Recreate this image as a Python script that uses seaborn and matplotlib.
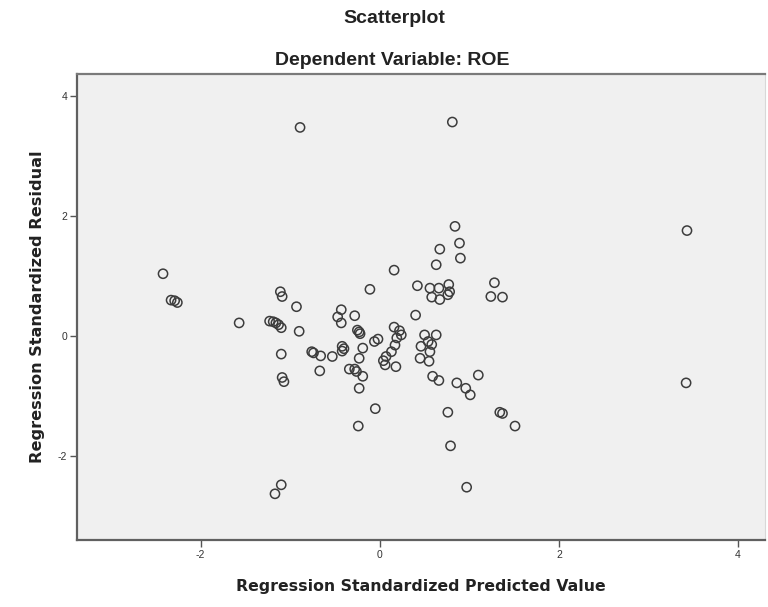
import matplotlib
matplotlib.use("Agg")
import matplotlib.pyplot as plt
import seaborn as sns
import pandas as pd

# ---------------- Data ----------------
predicted = [
    -2.42, -2.33, -2.29, -2.26, -1.57,
    -1.23, -1.19, -1.16, -1.13, -1.10, -1.11, -1.09, -0.93, -0.90,
    -1.10, -1.09, -1.07, -1.10, -1.17, -0.89,
    -0.76, -0.74, -0.66, -0.67, -0.53, -0.43, -0.47, -0.43, -0.28,
    -0.25, -0.23, -0.22, -0.42, -0.40, -0.42, -0.19, -0.23, -0.34,
    -0.28, -0.26, -0.19, -0.23, -0.05, -0.24, -0.11, 0.16, -0.06,
    -0.02, 0.16, 0.22, 0.24, 0.19, 0.17, 0.13, 0.07, 0.04, 0.06,
    0.18, 0.40, 0.42,
    0.84, 0.89, 0.67, 0.90, 0.63, 0.81, 0.56, 0.66, 0.77, 0.78,
    0.58, 0.67, 0.76, 1.28, 1.24, 1.37, 0.50, 0.63, 0.54, 0.58,
    0.46, 0.56, 0.45, 0.55, 0.59, 0.66, 1.10, 0.86, 0.96, 1.01,
    0.76, 1.34, 1.37, 1.51, 0.79, 0.97, 3.43, 3.42,
]
residual = [
    1.04, 0.60, 0.59, 0.56, 0.22,
    0.25, 0.24, 0.22, 0.19, 0.14, 0.74, 0.66, 0.49, 0.08,
    -0.30, -0.69, -0.76, -2.48, -2.63, 3.48,
    -0.26, -0.28, -0.33, -0.58, -0.34, 0.44, 0.32, 0.22, 0.34,
    0.10, 0.07, 0.04, -0.17, -0.21, -0.25, -0.20, -0.37, -0.55,
    -0.55, -0.59, -0.67, -0.87, -1.21, -1.50, 0.78, 1.10, -0.09,
    -0.05, 0.15, 0.09, 0.02, -0.03, -0.15, -0.26, -0.34, -0.41, -0.48,
    -0.51, 0.35, 0.84,
    1.83, 1.55, 1.45, 1.30, 1.19, 3.57, 0.80, 0.80, 0.86, 0.74,
    0.65, 0.61, 0.69, 0.89, 0.66, 0.65, 0.02, 0.02, -0.09, -0.14,
    -0.17, -0.26, -0.37, -0.42, -0.67, -0.74, -0.65, -0.78, -0.87, -0.98,
    -1.27, -1.27, -1.29, -1.50, -1.83, -2.52, 1.76, -0.78,
]
x_ticks = [-2, 0, 2, 4]
y_ticks = [-2, 0, 2, 4]

df = pd.DataFrame({"pred": predicted, "resid": residual})

# ---------------- Plotting ----------------
sns.set_style("white")
plt.rcParams["font.family"] = ["Liberation Sans", "DejaVu Sans"]
plt.rcParams["axes.unicode_minus"] = False

fig = plt.figure(figsize=(7.68, 6.07), dpi=100)
ax = fig.add_axes([0.1003, 0.1104, 0.8957, 0.7676])
ax.set_facecolor("#f0f0f0")

sns.scatterplot(data=df, x="pred", y="resid", ax=ax, marker="o",
                s=44, facecolor="none", edgecolor="#3c3c3c", linewidth=1.1)

ax.set_xlim(-3.38, 4.30)
ax.set_ylim(-3.40, 4.37)
ax.set_xticks(x_ticks)
ax.set_yticks(y_ticks)
ax.tick_params(axis="both", direction="out", length=5, width=1,
               color="#555555", labelsize=7.5, labelcolor="#333333", pad=2,
               bottom=True, left=True)

for side in ["left", "bottom"]:
    ax.spines[side].set_color("#606060")
    ax.spines[side].set_linewidth(1.6)
ax.spines["top"].set_color("#7a7a7a")
ax.spines["top"].set_linewidth(1.6)
ax.spines["right"].set_color("#d8d8d8")
ax.spines["right"].set_linewidth(0.8)

ax.set_xlabel("Regression Standardized Predicted Value", fontsize=11.3,
              fontweight="bold", family=["DejaVu Sans"], color="#222222",
              labelpad=14)
ax.set_ylabel("Regression Standardized Residual", fontsize=11.6,
              fontweight="bold", family=["DejaVu Sans"], color="#222222",
              labelpad=9)

fig.text(0.514, 0.970, "Scatterplot", ha="center", va="center",
         fontsize=14, fontweight="bold", color="#222222")
fig.text(0.511, 0.901, "Dependent Variable: ROE", ha="center", va="center",
         fontsize=14, fontweight="bold", color="#222222")

fig.savefig("out.png", dpi=100)
